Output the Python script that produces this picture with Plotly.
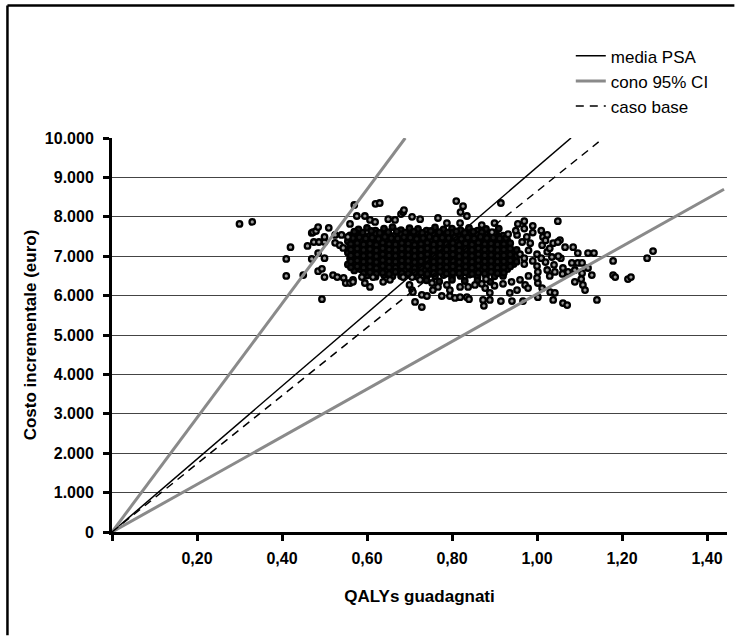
import plotly.graph_objects as go

# ---- PSA simulations (QALYs guadagnati, costo incrementale) ----
psa_periferia = [
    (0.30, 7820), (0.33, 7870), (0.42, 7230), (0.41, 6930), (0.41, 6500), (0.45, 6520),
    (0.46, 7260), (0.47, 7590), (0.473, 7610), (0.48, 7640), (0.485, 7740), (0.51, 7720),
    (0.47, 6930), (0.50, 6950), (0.485, 7080), (0.475, 7360), (0.487, 7360), (0.50, 7360),
    (0.50, 7490), (0.485, 6620), (0.494, 6680), (0.50, 6470), (0.52, 6520), (0.53, 6470),
    (0.545, 6450), (0.494, 5910), (0.55, 6320), (0.56, 6320), (0.567, 6400), (0.525, 7540),
    (0.54, 7540), (0.555, 7490), (0.525, 7340), (0.536, 7280), (0.544, 7210), (0.56, 7820),
    (0.57, 8300), (0.62, 8330), (0.63, 8350), (0.68, 8070), (0.685, 8120), (0.687, 8170),
    (0.81, 8400), (0.826, 8270), (0.82, 8120), (0.835, 8020), (0.576, 8020), (0.595, 8020),
    (0.607, 7920), (0.619, 7870), (0.65, 7940), (0.666, 7920), (0.706, 8000), (0.725, 7940),
    (0.767, 7970), (0.788, 7840), (0.819, 7840), (0.567, 6350), (0.588, 6470), (0.595, 6320),
    (0.607, 6220), (0.614, 6470), (0.638, 6350), (0.654, 6400), (0.685, 6470), (0.706, 6470),
    (0.70, 6270), (0.706, 6140), (0.725, 6400), (0.753, 6320), (0.755, 6140), (0.767, 6220),
    (0.788, 6270), (0.795, 6140), (0.819, 6220), (0.838, 6220), (0.854, 6270), (0.708, 6090),
    (0.729, 6020), (0.741, 5990), (0.776, 5990), (0.795, 5990), (0.807, 5940), (0.819, 5960),
    (0.835, 5960), (0.84, 5910), (0.713, 5840), (0.729, 5710), (0.915, 8350), (0.87, 7790),
    (0.90, 7840), (0.955, 7820), (0.97, 7890), (0.99, 7770), (1.049, 7890), (0.894, 7610),
    (0.932, 7560), (0.953, 7540), (0.976, 7490), (1.014, 7490), (1.024, 7540), (1.054, 7410),
    (1.066, 7230), (1.085, 7230), (0.965, 7360), (0.984, 7330), (1.012, 7280), (1.038, 7330),
    (1.049, 7360), (1.096, 7080), (1.12, 7080), (1.134, 7080), (1.024, 7110), (1.035, 6980),
    (1.056, 6950), (1.082, 6830), (1.096, 6830), (1.106, 6830), (1.002, 6600), (1.024, 6650),
    (1.042, 6600), (1.061, 6700), (1.073, 6600), (1.089, 6650), (1.106, 6570), (1.12, 6700),
    (1.129, 6520), (1.089, 6350), (1.104, 6420), (1.108, 6270), (1.113, 6140), (1.002, 6320),
    (0.972, 6270), (0.979, 6190), (1.012, 6190), (1.031, 6090), (1.042, 6070), (0.936, 6070),
    (0.953, 6140), (0.878, 6190), (0.889, 6070), (0.873, 5890), (0.889, 5890), (0.915, 5860),
    (0.941, 5860), (0.967, 5860), (1.002, 5960), (1.038, 5890), (1.061, 5810), (1.071, 5760),
    (1.141, 5890), (0.875, 5740), (0.98, 7150), (1.00, 7050), (1.01, 6950), (0.99, 6880),
    (1.03, 7200), (1.05, 7000), (0.97, 6800), (1.00, 6750), (1.02, 6850), (1.04, 6780),
    (0.98, 6500), (1.00, 6450), (0.96, 6400), (1.06, 6550), (1.02, 7400), (0.99, 7600),
    (1.01, 7650), (0.97, 7700), (0.95, 7650), (1.03, 6500), (0.96, 7050), (0.97, 6950),
    (1.179, 6880), (1.179, 6520), (1.184, 6470), (1.214, 6420), (1.221, 6470), (1.259, 6950),
    (1.273, 7130), (0.87, 6300), (0.90, 6250), (0.92, 6300), (0.88, 6420), (0.94, 6350),
]

psa_nucleo = [
    (0.58, 7680), (0.60, 7720), (0.62, 7650), (0.64, 7700), (0.66, 7740), (0.68, 7660), (0.70, 7710),
    (0.72, 7690), (0.74, 7650), (0.76, 7730), (0.78, 7680), (0.80, 7700), (0.82, 7660), (0.84, 7720),
    (0.86, 7650), (0.88, 7690), (0.91, 7700),
    (0.56, 7530), (0.575, 7580), (0.59, 7550), (0.605, 7510), (0.62, 7570), (0.635, 7540), (0.65, 7590),
    (0.665, 7520), (0.68, 7560), (0.695, 7540), (0.71, 7580), (0.725, 7510), (0.74, 7550), (0.755, 7570),
    (0.77, 7530), (0.785, 7560), (0.80, 7590), (0.815, 7520), (0.83, 7550), (0.845, 7580), (0.86, 7540),
    (0.875, 7510), (0.89, 7560), (0.905, 7540), (0.92, 7520),
    (0.555, 7380), (0.57, 7420), (0.585, 7400), (0.60, 7370), (0.615, 7430), (0.63, 7390), (0.645, 7410),
    (0.66, 7360), (0.675, 7420), (0.69, 7400), (0.705, 7380), (0.72, 7440), (0.735, 7390), (0.75, 7410),
    (0.765, 7370), (0.78, 7420), (0.795, 7400), (0.81, 7380), (0.825, 7430), (0.84, 7390), (0.855, 7410),
    (0.87, 7360), (0.885, 7400), (0.90, 7420), (0.915, 7380), (0.93, 7400),
    (0.56, 7240), (0.575, 7270), (0.59, 7230), (0.605, 7260), (0.62, 7280), (0.635, 7220), (0.65, 7250),
    (0.665, 7270), (0.68, 7240), (0.695, 7230), (0.71, 7260), (0.725, 7250), (0.74, 7280), (0.755, 7220),
    (0.77, 7260), (0.785, 7240), (0.80, 7270), (0.815, 7230), (0.83, 7250), (0.845, 7280), (0.86, 7240),
    (0.875, 7260), (0.89, 7230), (0.905, 7250), (0.92, 7270), (0.935, 7240),
    (0.555, 7090), (0.57, 7120), (0.585, 7080), (0.60, 7110), (0.615, 7130), (0.63, 7070), (0.645, 7100),
    (0.66, 7120), (0.675, 7090), (0.69, 7080), (0.705, 7110), (0.72, 7130), (0.735, 7090), (0.75, 7100),
    (0.765, 7070), (0.78, 7120), (0.795, 7110), (0.81, 7080), (0.825, 7100), (0.84, 7130), (0.855, 7090),
    (0.87, 7110), (0.885, 7080), (0.90, 7100), (0.915, 7120), (0.93, 7090), (0.945, 7100),
    (0.56, 6940), (0.575, 6970), (0.59, 6930), (0.605, 6960), (0.62, 6980), (0.635, 6920), (0.65, 6950),
    (0.665, 6970), (0.68, 6940), (0.695, 6930), (0.71, 6960), (0.725, 6950), (0.74, 6980), (0.755, 6920),
    (0.77, 6960), (0.785, 6940), (0.80, 6970), (0.815, 6930), (0.83, 6950), (0.845, 6980), (0.86, 6940),
    (0.875, 6960), (0.89, 6930), (0.905, 6950), (0.92, 6970), (0.935, 6940), (0.95, 6950),
    (0.555, 6790), (0.57, 6820), (0.585, 6780), (0.60, 6810), (0.615, 6830), (0.63, 6770), (0.645, 6800),
    (0.66, 6820), (0.675, 6790), (0.69, 6780), (0.705, 6810), (0.72, 6830), (0.735, 6790), (0.75, 6800),
    (0.765, 6770), (0.78, 6820), (0.795, 6810), (0.81, 6780), (0.825, 6800), (0.84, 6830), (0.855, 6790),
    (0.87, 6810), (0.885, 6780), (0.90, 6800), (0.915, 6820), (0.93, 6790), (0.945, 6800),
    (0.57, 6640), (0.585, 6670), (0.60, 6630), (0.615, 6660), (0.63, 6680), (0.645, 6620), (0.66, 6650),
    (0.675, 6670), (0.69, 6640), (0.705, 6630), (0.72, 6660), (0.735, 6650), (0.75, 6680), (0.765, 6620),
    (0.78, 6660), (0.795, 6640), (0.81, 6670), (0.825, 6630), (0.84, 6650), (0.855, 6680), (0.87, 6640),
    (0.885, 6660), (0.90, 6630), (0.915, 6650), (0.93, 6670),
    (0.60, 6510), (0.62, 6480), (0.64, 6520), (0.66, 6490), (0.68, 6500), (0.70, 6530), (0.72, 6470),
    (0.74, 6510), (0.76, 6490), (0.78, 6520), (0.80, 6480), (0.82, 6500), (0.84, 6530), (0.86, 6470),
    (0.88, 6510), (0.90, 6490), (0.92, 6500),
    (0.74, 6390), (0.77, 6360), (0.80, 6400), (0.83, 6370), (0.86, 6380), (0.89, 6350),
]

psa_nucleo_2 = [
    (0.57, 7620), (0.59, 7600), (0.61, 7640), (0.63, 7590), (0.65, 7610), (0.67, 7630), (0.69, 7600),
    (0.71, 7620), (0.73, 7590), (0.75, 7640), (0.77, 7610), (0.79, 7600), (0.81, 7630), (0.83, 7590),
    (0.85, 7620), (0.87, 7610), (0.90, 7600),
    (0.567, 7460), (0.582, 7480), (0.597, 7450), (0.612, 7470), (0.627, 7440), (0.642, 7490), (0.657, 7460),
    (0.672, 7450), (0.687, 7480), (0.702, 7470), (0.717, 7440), (0.732, 7460), (0.747, 7490), (0.762, 7450),
    (0.777, 7470), (0.792, 7460), (0.807, 7480), (0.822, 7440), (0.837, 7470), (0.852, 7450), (0.867, 7490),
    (0.882, 7460), (0.897, 7470), (0.912, 7450), (0.927, 7460),
    (0.562, 7310), (0.577, 7330), (0.592, 7300), (0.607, 7320), (0.622, 7290), (0.637, 7340), (0.652, 7310),
    (0.667, 7300), (0.682, 7330), (0.697, 7320), (0.712, 7290), (0.727, 7310), (0.742, 7340), (0.757, 7300),
    (0.772, 7320), (0.787, 7310), (0.802, 7330), (0.817, 7290), (0.832, 7320), (0.847, 7300), (0.862, 7340),
    (0.877, 7310), (0.892, 7320), (0.907, 7300), (0.922, 7310), (0.937, 7330),
    (0.562, 7170), (0.577, 7190), (0.592, 7160), (0.607, 7180), (0.622, 7150), (0.637, 7200), (0.652, 7170),
    (0.667, 7160), (0.682, 7190), (0.697, 7180), (0.712, 7150), (0.727, 7170), (0.742, 7200), (0.757, 7160),
    (0.772, 7180), (0.787, 7170), (0.802, 7190), (0.817, 7150), (0.832, 7180), (0.847, 7160), (0.862, 7200),
    (0.877, 7170), (0.892, 7180), (0.907, 7160), (0.922, 7170), (0.937, 7190), (0.952, 7160),
    (0.562, 7020), (0.577, 7040), (0.592, 7010), (0.607, 7030), (0.622, 7000), (0.637, 7050), (0.652, 7020),
    (0.667, 7010), (0.682, 7040), (0.697, 7030), (0.712, 7000), (0.727, 7020), (0.742, 7050), (0.757, 7010),
    (0.772, 7030), (0.787, 7020), (0.802, 7040), (0.817, 7000), (0.832, 7030), (0.847, 7010), (0.862, 7050),
    (0.877, 7020), (0.892, 7030), (0.907, 7010), (0.922, 7020), (0.937, 7040), (0.952, 7010),
    (0.562, 6870), (0.577, 6890), (0.592, 6860), (0.607, 6880), (0.622, 6850), (0.637, 6900), (0.652, 6870),
    (0.667, 6860), (0.682, 6890), (0.697, 6880), (0.712, 6850), (0.727, 6870), (0.742, 6900), (0.757, 6860),
    (0.772, 6880), (0.787, 6870), (0.802, 6890), (0.817, 6850), (0.832, 6880), (0.847, 6860), (0.862, 6900),
    (0.877, 6870), (0.892, 6880), (0.907, 6860), (0.922, 6870), (0.937, 6890), (0.952, 6860),
    (0.562, 6720), (0.577, 6740), (0.592, 6710), (0.607, 6730), (0.622, 6700), (0.637, 6750), (0.652, 6720),
    (0.667, 6710), (0.682, 6740), (0.697, 6730), (0.712, 6700), (0.727, 6720), (0.742, 6750), (0.757, 6710),
    (0.772, 6730), (0.787, 6720), (0.802, 6740), (0.817, 6700), (0.832, 6730), (0.847, 6710), (0.862, 6750),
    (0.877, 6720), (0.892, 6730), (0.907, 6710), (0.922, 6720), (0.937, 6740),
    (0.592, 6570), (0.607, 6590), (0.622, 6560), (0.637, 6580), (0.652, 6550), (0.667, 6600), (0.682, 6570),
    (0.697, 6560), (0.712, 6590), (0.727, 6580), (0.742, 6550), (0.757, 6570), (0.772, 6600), (0.787, 6560),
    (0.802, 6580), (0.817, 6570), (0.832, 6590), (0.847, 6550), (0.862, 6580), (0.877, 6560), (0.892, 6600),
    (0.907, 6570), (0.922, 6580),
]

# ---- reference lines (QALY, euro) ----
media_psa_x = [0, 1.08]
media_psa_y = [0, 10000]
cono_sup_x = [0, 0.69]
cono_sup_y = [0, 10000]
cono_inf_x = [0, 1.44]
cono_inf_y = [0, 8700]
caso_base_x = [0, 1.145]
caso_base_y = [0, 9900]

x_ticks = [0, 0.2, 0.4, 0.6, 0.8, 1.0, 1.2, 1.4]
x_labels = ["", "0,20", "0,40", "0,60", "0,80", "1,00", "1,20", "1,40"]
y_ticks = [0, 1000, 2000, 3000, 4000, 5000, 6000, 7000, 8000, 9000, 10000]
y_labels = ["0", "1.000", "2.000", "3.000", "4.000", "5.000", "6.000", "7.000", "8.000", "9.000", "10.000"]

FONT = "Liberation Sans, Arial, Helvetica, sans-serif"

nucleo = psa_nucleo + psa_nucleo_2
fig = go.Figure()
fig.add_trace(go.Scatter(
    x=[p[0] for p in nucleo], y=[p[1] for p in nucleo], mode="markers",
    marker=dict(symbol="circle", size=5.5, color="#1a1a1a", line=dict(color="black", width=2.3)),
    showlegend=False, hoverinfo="skip"))
fig.add_trace(go.Scatter(
    x=[p[0] for p in psa_periferia], y=[p[1] for p in psa_periferia], mode="markers",
    marker=dict(symbol="circle", size=5.5, color="#9a9a9a", line=dict(color="black", width=2.3)),
    showlegend=False, hoverinfo="skip"))

fig.add_trace(go.Scatter(x=media_psa_x, y=media_psa_y, mode="lines", name="media PSA",
                         line=dict(color="black", width=1.5), legendgroup="a"))
fig.add_trace(go.Scatter(x=cono_sup_x, y=cono_sup_y, mode="lines", name="cono 95% CI",
                         line=dict(color="#8a8a8a", width=3), legendgroup="b"))
fig.add_trace(go.Scatter(x=cono_inf_x, y=cono_inf_y, mode="lines", name="cono 95% CI",
                         line=dict(color="#8a8a8a", width=3), legendgroup="b", showlegend=False))
fig.add_trace(go.Scatter(x=caso_base_x, y=caso_base_y, mode="lines", name="caso base",
                         line=dict(color="black", width=1.5, dash="8px,6px"), legendgroup="c"))

fig.update_layout(
    width=738, height=638, autosize=False,
    margin=dict(l=112, r=11, t=138, b=106),
    paper_bgcolor="white", plot_bgcolor="white",
    font=dict(family=FONT, color="black"),
    legend=dict(x=0.746, y=1.253, xanchor="left", yanchor="top",
                font=dict(size=17, family=FONT), traceorder="grouped", tracegroupgap=0,
                bgcolor="rgba(0,0,0,0)", itemwidth=30),
    xaxis=dict(range=[0, 1.447], tickvals=x_ticks, ticktext=x_labels,
               showgrid=False, zeroline=False, showline=True, linecolor="black", linewidth=3,
               ticks="outside", ticklen=6, tickwidth=2.5, tickcolor="black",
               tickfont=dict(size=16, family=FONT, weight="bold"), ticklabelstandoff=4,
               title=dict(text="<b>QALYs guadagnati</b>", font=dict(size=17, family=FONT), standoff=24)),
    yaxis=dict(range=[0, 10000], tickvals=y_ticks, ticktext=y_labels,
               showgrid=True, gridcolor="#444444", gridwidth=1, zeroline=False,
               showline=True, linecolor="black", linewidth=3,
               ticks="outside", ticklen=6, tickwidth=2.5, tickcolor="black",
               tickfont=dict(size=16, family=FONT, weight="bold"), ticklabelstandoff=6,
               title=dict(text="<b>Costo incrementale (euro)</b>", font=dict(size=17, family=FONT), standoff=4)),
    shapes=[
        dict(type="line", xref="paper", yref="paper", x0=-0.17, x1=-0.17, y0=-0.262, y1=1.336,
             line=dict(color="black", width=2.5), layer="below"),
        dict(type="line", xref="paper", yref="paper", x0=-0.17, x1=1.012, y0=1.336, y1=1.336,
             line=dict(color="black", width=2.5), layer="below"),
    ],
)

fig.write_html("out.html")
